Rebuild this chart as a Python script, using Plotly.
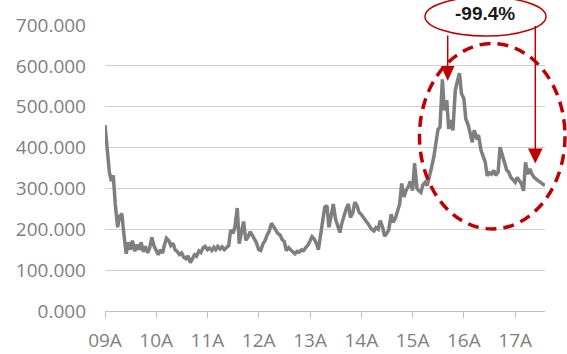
import pandas as pd
import plotly.graph_objects as go

# Semi-monthly observations starting Jan 2009
start_date = "2009-01-01"
values = [
    # 2009
    455, 395, 340, 318, 332, 262, 205, 232, 238, 190, 140, 168,
    150, 172, 146, 162, 150, 168, 145, 158, 142, 155, 180, 160,
    # 2010
    145, 138, 150, 142, 162, 178, 172, 160, 166, 150, 145, 138,
    142, 132, 128, 135, 118, 126, 138, 134, 147, 143, 155, 158,
    # 2011
    150, 154, 148, 156, 150, 158, 152, 157, 150, 155, 160, 198,
    190, 205, 252, 165, 196, 219, 173, 180, 194, 186, 173, 168,
    # 2012
    150, 148, 165, 172, 186, 195, 215, 205, 198, 190, 186, 175,
    170, 148, 155, 150, 145, 140, 146, 144, 150, 148, 155, 161,
    # 2013
    172, 182, 175, 165, 150, 184, 230, 254, 258, 205, 235, 262,
    225, 208, 192, 215, 237, 250, 262, 229, 240, 266, 258, 242,
    # 2014
    236, 228, 221, 215, 208, 200, 196, 204, 200, 221, 205, 183,
    190, 198, 237, 217, 228, 246, 262, 312, 279, 295, 304, 317,
    # 2015
    295, 362, 300, 294, 290, 308, 315, 307, 335, 350, 377, 410,
    445, 450, 567, 491, 516, 446, 467, 442, 540, 561, 582, 532,
    # 2016
    520, 470, 455, 435, 413, 442, 425, 430, 395, 381, 365, 331,
    338, 335, 344, 332, 340, 401, 381, 360, 345, 340, 327, 322,
    # 2017
    315, 327, 318, 311, 294, 364, 335, 348, 335, 327, 322, 319,
    315, 312, 307,
]
tick_dates = ["2009-01-01", "2010-01-01", "2011-01-01", "2012-01-01", "2013-01-01",
              "2014-01-01", "2015-01-01", "2016-01-01", "2017-01-01"]
tick_labels = ["09A", "10A", "11A", "12A", "13A", "14A", "15A", "16A", "17A"]
y_ticks = [0, 100, 200, 300, 400, 500, 600, 700]
change_label = "-99.4%"

dates = pd.date_range(start=start_date, periods=len(values), freq="SMS")

W, H = 567, 354
L, R, T, B = 105, 22, 25, 43
PW, PH = W - L - R, H - T - B


def px(x):
    return (x - L) / PW


def py(y):
    return (H - B - y) / PH


RED = "#C00000"

fig = go.Figure()
fig.add_trace(go.Scatter(
    x=dates, y=values, mode="lines",
    line=dict(color="#7f7f7f", width=3.5),
    hoverinfo="skip", showlegend=False,
))

font_ticks = dict(family="Open Sans", size=19, color="#7f7f7f")

fig.update_layout(
    width=W, height=H,
    margin=dict(l=L, r=R, t=T, b=B, pad=0),
    paper_bgcolor="white", plot_bgcolor="white",
    showlegend=False,
    xaxis=dict(
        range=["2009-01-01", "2017-08-01"],
        tickvals=tick_dates, ticktext=tick_labels,
        showgrid=False, zeroline=False, automargin=False,
        showline=True, linecolor="#bfbfbf", linewidth=1,
        ticks="outside", ticklen=6, tickcolor="#bfbfbf", tickwidth=1,
        tickfont=font_ticks, ticklabelstandoff=6,
    ),
    yaxis=dict(
        range=[0, 700], tickvals=y_ticks, tickformat=".3f",
        showgrid=True, gridcolor="#d0d0d0", gridwidth=1,
        zeroline=False, showline=False, ticks="", automargin=False,
        tickfont=font_ticks, ticklabelstandoff=18,
    ),
)

shapes = [
    # dashed ellipse highlighting recent period
    dict(type="circle", xref="paper", yref="paper",
         x0=px(419.5), x1=px(565), y0=py(229), y1=py(43.5),
         line=dict(color=RED, width=3.5, dash="11px,7px"), layer="above"),
    # label ellipse
    dict(type="circle", xref="paper", yref="paper",
         x0=px(425), x1=px(546), y0=py(36), y1=py(-3),
         line=dict(color=RED, width=1.5), layer="above"),
    # left connector
    dict(type="line", xref="paper", yref="paper",
         x0=px(447.7), x1=px(447.7), y0=py(35.5), y1=py(67),
         line=dict(color=RED, width=1.5), layer="above"),
    dict(type="path", xref="paper", yref="paper",
         path=f"M {px(441)},{py(66)} L {px(454.5)},{py(66)} L {px(447.7)},{py(81)} Z",
         fillcolor=RED, line=dict(color=RED, width=0), layer="above"),
    # right connector
    dict(type="line", xref="paper", yref="paper",
         x0=px(535.3), x1=px(535.3), y0=py(26), y1=py(149),
         line=dict(color=RED, width=1.5), layer="above"),
    dict(type="path", xref="paper", yref="paper",
         path=f"M {px(528)},{py(148.5)} L {px(542.6)},{py(148.5)} L {px(535.3)},{py(163.5)} Z",
         fillcolor=RED, line=dict(color=RED, width=0), layer="above"),
]
fig.update_layout(shapes=shapes)

fig.add_annotation(
    xref="paper", yref="paper", x=px(485), y=py(13.5),
    text=f"<b>{change_label}</b>", showarrow=False,
    font=dict(family="Liberation Sans", size=19, color="#1a1a1a"),
    xanchor="center", yanchor="middle",
)

fig.write_html("out.html")
